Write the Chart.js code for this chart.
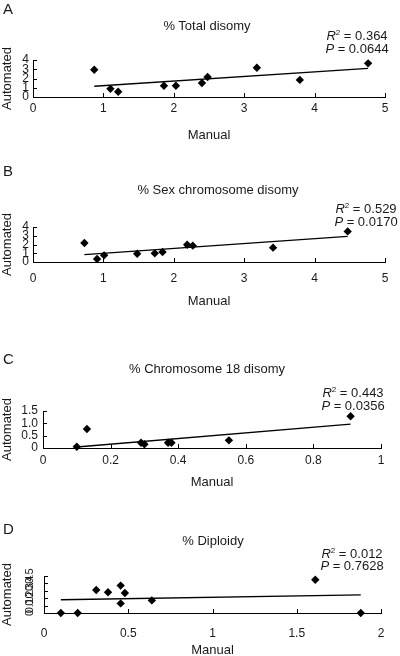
<!DOCTYPE html>
<html>
<head>
<meta charset="utf-8">
<script src="https://cdn.jsdelivr.net/npm/chart.js@4.4.1/dist/chart.umd.min.js"></script>
<style>
  body { margin: 0; background: #fff; width: 400px; height: 656px; overflow: hidden; position: relative;
         font-family: "Liberation Sans", Arial, sans-serif; color: #1a1a1a; }
  .panel { position: absolute; left: 0; width: 400px; height: 165px; }
  .panel canvas { position: absolute; left: 0; top: 0; }
  .txt { position: absolute; white-space: nowrap; line-height: 1; font-size: 13px; transform: translate(-50%, -50%); }
  .letter { position: absolute; left: 3px; font-size: 15px; line-height: 1; transform: translateY(-50%); }
  .sup { font-size: 8px; position: relative; top: -5px; }
</style>
</head>
<body>
<div class="panel" style="top:0px"><canvas id="chartA" width="400" height="165"></canvas></div>
<div class="panel" style="top:165px"><canvas id="chartB" width="400" height="165"></canvas></div>
<div class="panel" style="top:330px"><canvas id="chartC" width="400" height="165"></canvas></div>
<div class="panel" style="top:495px"><canvas id="chartD" width="400" height="165"></canvas></div>
<script>
// panel texts
var panelLetters = ["A", "B", "C", "D"];
var panelTitles = ["% Total disomy", "% Sex chromosome disomy", "% Chromosome 18 disomy", "% Diploidy"];
var r2Values = ["0.364", "0.529", "0.443", "0.012"];
var pValues = ["0.0644", "0.0170", "0.0356", "0.7628"];

// A: total disomy
var manualA = [0.87, 1.10, 1.21, 1.86, 2.03, 2.40, 2.48, 3.18, 3.79, 4.76];
var autoA = [2.95, 0.88, 0.57, 1.22, 1.22, 1.51, 2.16, 3.16, 1.85, 3.64];
var fitXA = [0.87, 4.76];
var fitYA = [1.16, 3.09];
var xTicksA = ["0", "1", "2", "3", "4", "5"];
var yTicksA = ["0", "1", "2", "3", "4"];

// B: sex chromosome disomy
var manualB = [0.73, 0.91, 1.01, 1.48, 1.73, 1.84, 2.19, 2.27, 3.41, 4.47];
var autoB = [2.17, 0.34, 0.76, 0.95, 0.99, 1.14, 1.98, 1.87, 1.64, 3.50];
var fitXB = [0.73, 4.47];
var fitYB = [0.84, 2.93];
var xTicksB = ["0", "1", "2", "3", "4", "5"];
var yTicksB = ["0", "1", "2", "3", "4"];

// C: chromosome 18 disomy
var manualC = [0.10, 0.13, 0.29, 0.30, 0.37, 0.38, 0.55, 0.91];
var autoC = [0.05, 0.77, 0.21, 0.15, 0.21, 0.21, 0.31, 1.29];
var fitXC = [0.10, 0.91];
var fitYC = [0.04, 0.97];
var xTicksC = ["0", "0.2", "0.4", "0.6", "0.8", "1"];
var yTicksC = ["0", "0.5", "1.0", "1.5"];

// D: diploidy
var manualD = [0.10, 0.20, 0.31, 0.38, 0.455, 0.48, 0.455, 0.64, 1.61, 1.88];
var autoD = [0, 0, 0.31, 0.28, 0.37, 0.27, 0.13, 0.17, 0.45, 0];
var fitXD = [0.10, 1.88];
var fitYD = [0.18, 0.245];
var xTicksD = ["0", "0.5", "1", "1.5", "2"];
var yTicksD = ["0", "0.1", "0.2", "0.3", "0.4", "0.5"];

var FONT = "'Liberation Sans', Arial, sans-serif";
var INK = "#1a1a1a";
Chart.defaults.font.family = FONT;
Chart.defaults.color = INK;

// short tick marks pointing into the plot
var innerTicks = {
    id: "innerTicks",
    afterDraw: function (chart) {
        var ctx = chart.ctx, a = chart.chartArea;
        var xs = chart.scales.x, ys = chart.scales.y;
        ctx.save();
        ctx.strokeStyle = "#000";
        ctx.lineWidth = 1;
        ctx.beginPath();
        xs.ticks.forEach(function (t, i) {
            var px = Math.round(xs.getPixelForTick(i)) + 0.5;
            ctx.moveTo(px, a.bottom);
            ctx.lineTo(px, a.bottom - 4);
        });
        ys.ticks.forEach(function (t, i) {
            var py = Math.round(ys.getPixelForTick(i)) + 0.5;
            ctx.moveTo(a.left, py);
            ctx.lineTo(a.left + 4, py);
        });
        ctx.stroke();
        ctx.restore();
    }
};

function pairs(xs, ys) {
    return xs.map(function (x, i) { return { x: x, y: ys[i] }; });
}

function makeChart(id, p) {
    var ctx = document.getElementById(id).getContext("2d");
    return new Chart(ctx, {
        type: "scatter",
        data: {
            datasets: [
                {
                    data: pairs(p.xs, p.ys),
                    pointStyle: "rectRot",
                    pointRadius: 4.2,
                    backgroundColor: "#000",
                    borderColor: "#000",
                    borderWidth: 0,
                    clip: false,
                    order: 1
                },
                {
                    data: pairs(p.fitX, p.fitY),
                    showLine: true,
                    pointRadius: 0,
                    borderColor: "#000",
                    borderWidth: 1.4,
                    order: 2
                }
            ]
        },
        options: {
            responsive: false,
            animation: false,
            layout: { padding: { top: p.top, right: 400 - p.right, left: 0, bottom: 0 } },
            plugins: { legend: { display: false }, tooltip: { enabled: false } },
            scales: {
                x: {
                    type: "linear",
                    min: parseFloat(p.xTicks[0]),
                    max: parseFloat(p.xTicks[p.xTicks.length - 1]),
                    grid: { display: false, drawTicks: false },
                    border: { display: true, color: "#000", width: 1 },
                    afterBuildTicks: function (s) {
                        s.ticks = p.xTicks.map(function (v) { return { value: parseFloat(v) }; });
                    },
                    ticks: {
                        autoSkip: false, maxRotation: 0, padding: p.xPad,
                        font: { size: 12 }, color: INK,
                        callback: function (v, i) { return p.xTicks[i]; }
                    },
                    title: {
                        display: true, text: "Manual", color: INK,
                        font: { size: 13 }, padding: { top: 0, bottom: p.titlePad }
                    },
                    afterFit: function (s) { s.height = 165 - p.bottom; }
                },
                y: {
                    type: "linear",
                    min: parseFloat(p.yTicks[0]),
                    max: parseFloat(p.yTicks[p.yTicks.length - 1]),
                    grid: { display: false, drawTicks: false },
                    border: { display: true, color: "#000", width: 1 },
                    afterBuildTicks: function (s) {
                        s.ticks = p.yTicks.map(function (v) { return { value: parseFloat(v) }; });
                    },
                    ticks: {
                        autoSkip: false, padding: p.yPad,
                        minRotation: p.rot, maxRotation: p.rot,
                        crossAlign: p.rot ? "center" : "near",
                        font: { size: p.yFont }, color: INK,
                        callback: function (v, i) { return p.yTicks[i]; }
                    },
                    title: {
                        display: true, text: "Automated", color: INK,
                        font: { size: 13 }, padding: { top: 0, bottom: 0 }
                    },
                    afterFit: function (s) { s.width = p.left; }
                }
            }
        },
        plugins: [innerTicks]
    });
}

makeChart("chartA", { xs: manualA, ys: autoA, fitX: fitXA, fitY: fitYA, xTicks: xTicksA, yTicks: yTicksA,
    left: 33, right: 385, top: 60, bottom: 97, xPad: 4, yPad: 4, yFont: 12, titlePad: 22, rot: 0 });
makeChart("chartB", { xs: manualB, ys: autoB, fitX: fitXB, fitY: fitYB, xTicks: xTicksB, yTicks: yTicksB,
    left: 33, right: 385, top: 62, bottom: 97, xPad: 9, yPad: 4, yFont: 12, titlePad: 21, rot: 0 });
makeChart("chartC", { xs: manualC, ys: autoC, fitX: fitXC, fitY: fitYC, xTicks: xTicksC, yTicks: yTicksC,
    left: 43, right: 381, top: 81, bottom: 118, xPad: 5, yPad: 5, yFont: 12, titlePad: 5, rot: 0 });
makeChart("chartD", { xs: manualD, ys: autoD, fitX: fitXD, fitY: fitYD, xTicks: xTicksD, yTicks: yTicksD,
    left: 44, right: 381, top: 81, bottom: 118, xPad: 13, yPad: 6, yFont: 11, titlePad: 2, rot: 90 });

// letters, titles and fit statistics
var letterY = [8, 170, 358, 528];
var titlePos = [[207, 25], [218, 189], [207, 368], [213, 540]];
var statPos = [[357, 35, 48], [366, 208, 221], [353, 392, 405], [352, 553, 565]];

function addText(cls, x, y, html) {
    var d = document.createElement("div");
    d.className = cls;
    d.style.top = y + "px";
    if (x !== null) d.style.left = x + "px";
    d.innerHTML = html;
    document.body.appendChild(d);
}

panelLetters.forEach(function (L, i) {
    addText("letter", null, letterY[i], L);
    addText("txt", titlePos[i][0], titlePos[i][1], panelTitles[i]);
    addText("txt", statPos[i][0], statPos[i][1], "<i>R</i><span class=\"sup\">2</span> = " + r2Values[i]);
    addText("txt", statPos[i][0], statPos[i][2], "<i>P</i> = " + pValues[i]);
});
</script>
</body>
</html>
